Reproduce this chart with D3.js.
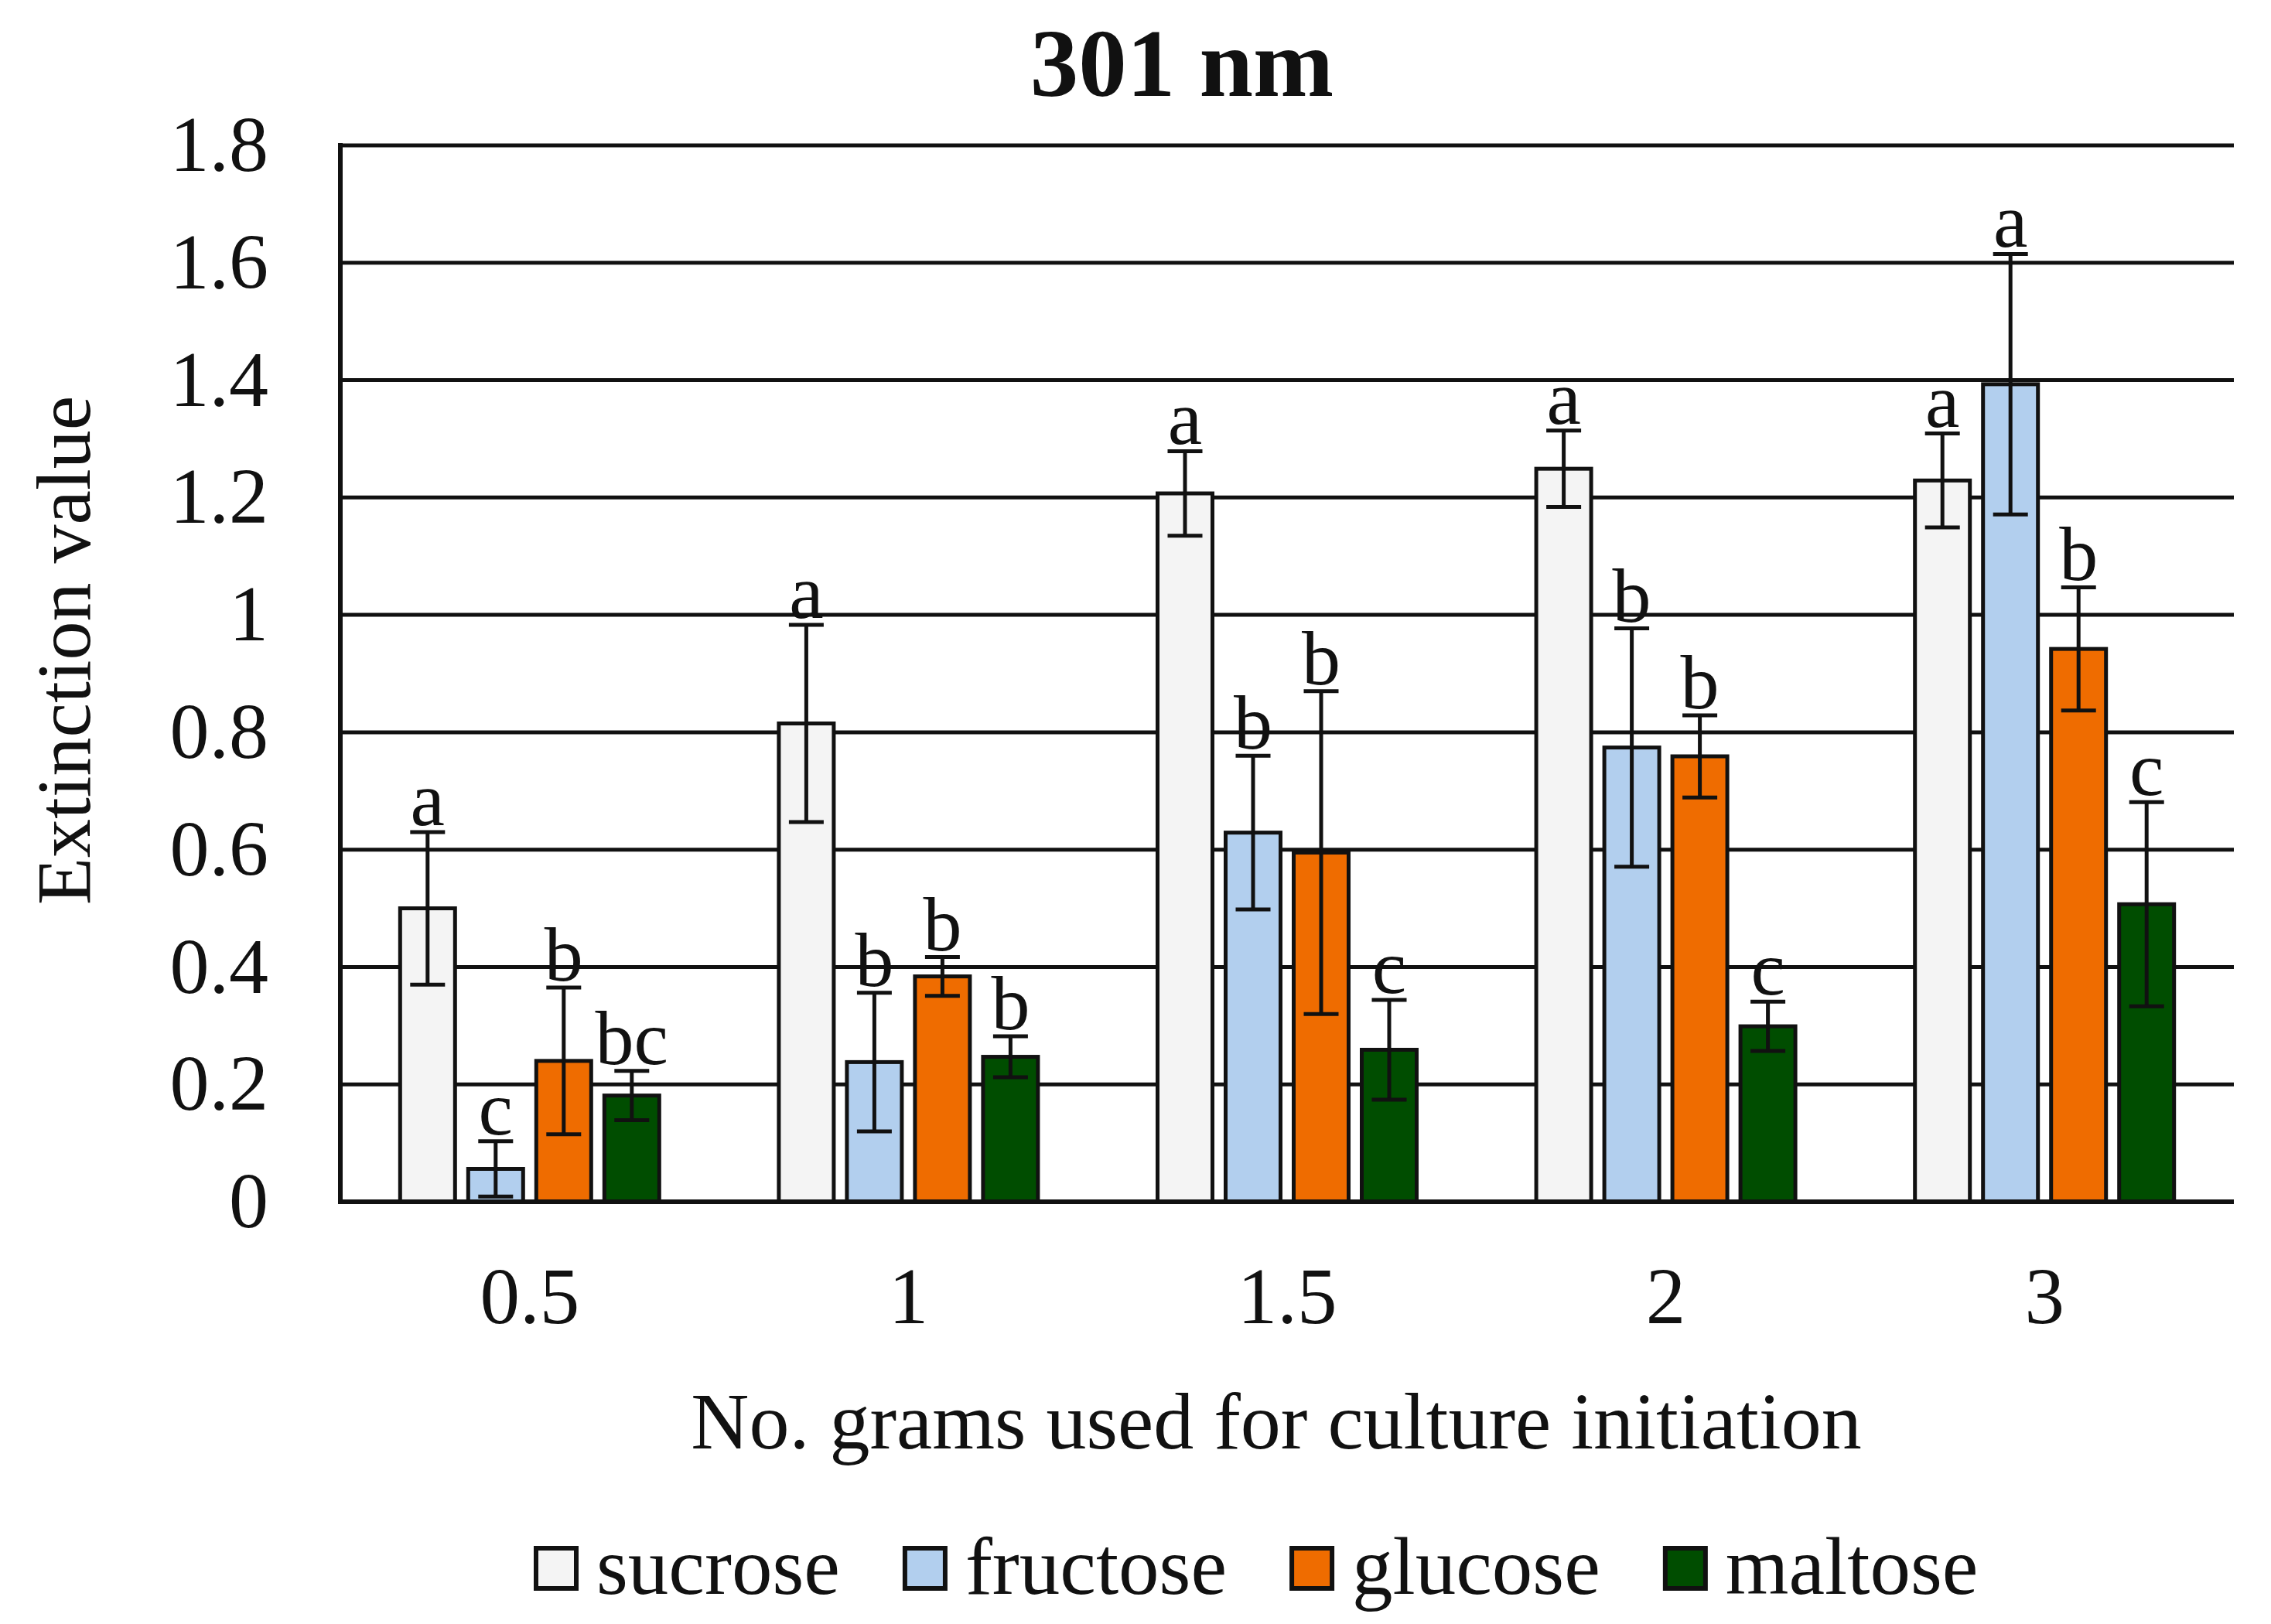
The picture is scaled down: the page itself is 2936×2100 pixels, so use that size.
<!DOCTYPE html>
<html>
<head>
<meta charset="utf-8">
<script src="https://cdn.jsdelivr.net/npm/d3@7"></script>
<style>
   body { margin: 0; background: #fff; }
   text { font-family: "Liberation Serif", "Times New Roman", serif; fill: #111; }
</style>
</head>
<body>
<svg id="chart" width="2936" height="2100"></svg>
<script>
// カテゴリー (培養開始に使用したグラム数)
const categories = ['0.5', '1', '1.5', '2', '3'];

// 系列名
const seriesNames = ['sucrose', 'fructose', 'glucose', 'maltose'];

// 平均値
const sucrose  = [0.50, 0.815, 1.207, 1.249, 1.229];
const fructose = [0.056, 0.238, 0.629, 0.774, 1.393];
const glucose  = [0.24, 0.384, 0.595, 0.759, 0.942];
const maltose  = [0.181, 0.247, 0.259, 0.299, 0.507];

// 誤差 (±)
const sucroseErr  = [0.13, 0.168, 0.072, 0.065, 0.08];
const fructoseErr = [0.047, 0.118, 0.131, 0.203, 0.222];
const glucoseErr  = [0.125, 0.033, 0.275, 0.07, 0.105];
const maltoseErr  = [0.042, 0.035, 0.085, 0.042, 0.174];

// 有意差の文字
const sucroseLetters  = ['a', 'a', 'a', 'a', 'a'];
const fructoseLetters = ['c', 'b', 'b', 'b', 'a'];
const glucoseLetters  = ['b', 'b', 'b', 'b', 'b'];
const maltoseLetters  = ['bc', 'b', 'c', 'c', 'c'];

// Y軸の目盛り
const yTicks = [0, 0.2, 0.4, 0.6, 0.8, 1, 1.2, 1.4, 1.6, 1.8];

// グラフの色
const ColorMap = {
   'sucrose': '#f4f4f4',
   'fructose': '#b2cfee',
   'glucose': '#ef6c00',
   'maltose': '#004d00'
};

const values = [sucrose, fructose, glucose, maltose];
const errors = [sucroseErr, fructoseErr, glucoseErr, maltoseErr];
const letters = [sucroseLetters, fructoseLetters, glucoseLetters, maltoseLetters];

const svg = d3.select('#chart');
const plot = { left: 440, right: 2888, top: 188, bottom: 1554 };

const x = d3.scaleBand().domain(categories).range([plot.left, plot.right]).padding(0);
const y = d3.scaleLinear().domain([0, 1.8]).range([plot.bottom, plot.top]);

const barStep = 88;
const barWidth = 71;
const capWidth = 45;

drawTitle();
drawGrid();
drawBars();
drawAxes();
drawLegend();

// タイトル
function drawTitle() {
   svg.append('text')
      .attr('x', 1528)
      .attr('y', 124)
      .attr('text-anchor', 'middle')
      .attr('font-size', 125)
      .attr('font-weight', 'bold')
      .text('301 nm');
}

// 横のグリッド線
function drawGrid() {
   svg.append('g')
      .selectAll('line')
      .data(yTicks.filter((d) => d > 0))
      .enter()
      .append('line')
      .attr('x1', plot.left)
      .attr('x2', plot.right)
      .attr('y1', (d) => y(d))
      .attr('y2', (d) => y(d))
      .attr('stroke', '#111')
      .attr('stroke-width', 5);
}

// 棒・誤差棒・文字
function drawBars() {
   const rows = [];
   seriesNames.forEach((name, si) => {
      categories.forEach((cat, ci) => {
         rows.push({
            name: name,
            cat: cat,
            cx: x(cat) + x.bandwidth() / 2 + (si - 1.5) * barStep,
            value: values[si][ci],
            err: errors[si][ci],
            letter: letters[si][ci]
         });
      });
   });

   const g = svg.append('g');

   g.selectAll('rect')
      .data(rows)
      .enter()
      .append('rect')
      .attr('x', (d) => d.cx - barWidth / 2)
      .attr('width', barWidth)
      .attr('y', (d) => y(d.value))
      .attr('height', (d) => y(0) - y(d.value))
      .attr('fill', (d) => ColorMap[d.name])
      .attr('stroke', '#111')
      .attr('stroke-width', 5);

   const eb = g.selectAll('g.err')
      .data(rows)
      .enter()
      .append('g')
      .attr('class', 'err')
      .attr('stroke', '#111')
      .attr('stroke-width', 5);

   eb.append('line')
      .attr('x1', (d) => d.cx)
      .attr('x2', (d) => d.cx)
      .attr('y1', (d) => y(d.value + d.err))
      .attr('y2', (d) => y(d.value - d.err));
   eb.append('line')
      .attr('x1', (d) => d.cx - capWidth / 2)
      .attr('x2', (d) => d.cx + capWidth / 2)
      .attr('y1', (d) => y(d.value + d.err))
      .attr('y2', (d) => y(d.value + d.err));
   eb.append('line')
      .attr('x1', (d) => d.cx - capWidth / 2)
      .attr('x2', (d) => d.cx + capWidth / 2)
      .attr('y1', (d) => y(d.value - d.err))
      .attr('y2', (d) => y(d.value - d.err));

   g.selectAll('text.letter')
      .data(rows)
      .enter()
      .append('text')
      .attr('class', 'letter')
      .attr('x', (d) => d.cx)
      .attr('y', (d) => y(d.value + d.err) - 9)
      .attr('text-anchor', 'middle')
      .attr('font-size', 100)
      .text((d) => d.letter);
}

// 軸と軸ラベル
function drawAxes() {
   const yAxis = svg.append('g')
      .attr('transform', `translate(${plot.left},0)`)
      .call(d3.axisLeft(y).tickValues(yTicks).tickSize(0).tickPadding(93)
         .tickFormat((d) => d3.format('~g')(d)));
   yAxis.select('.domain').remove();
   yAxis.selectAll('text')
      .attr('font-size', 102)
      .attr('fill', '#111')
      .attr('font-family', '"Liberation Serif", serif');

   const xAxis = svg.append('g')
      .attr('transform', `translate(0,${plot.bottom})`)
      .call(d3.axisBottom(x).tickSize(0).tickPadding(84));
   xAxis.select('.domain').remove();
   xAxis.selectAll('text')
      .attr('font-size', 103)
      .attr('fill', '#111')
      .attr('font-family', '"Liberation Serif", serif');

   // 軸線
   svg.append('line')
      .attr('x1', plot.left).attr('x2', plot.left)
      .attr('y1', plot.top - 3).attr('y2', plot.bottom + 3)
      .attr('stroke', '#111').attr('stroke-width', 6);
   svg.append('line')
      .attr('x1', plot.left - 3).attr('x2', plot.right)
      .attr('y1', plot.bottom).attr('y2', plot.bottom)
      .attr('stroke', '#111').attr('stroke-width', 6);

   svg.append('text')
      .attr('x', 1650)
      .attr('y', 1873)
      .attr('text-anchor', 'middle')
      .attr('font-size', 104)
      .text('No. grams used for culture initiation');

   svg.append('text')
      .attr('transform', 'translate(116,841) rotate(-90)')
      .attr('text-anchor', 'middle')
      .attr('font-size', 100)
      .text('Extinction value');
}

// 凡例
function drawLegend() {
   const legend = svg.append('g');
   let cursor = 693;
   seriesNames.forEach((name) => {
      legend.append('rect')
         .attr('x', cursor)
         .attr('y', 2002)
         .attr('width', 52)
         .attr('height', 52)
         .attr('fill', ColorMap[name])
         .attr('stroke', '#111')
         .attr('stroke-width', 6);
      const t = legend.append('text')
         .attr('x', cursor + 78)
         .attr('y', 2061)
         .attr('font-size', 105)
         .text(name);
      cursor += 78 + t.node().getComputedTextLength() + 84;
   });
}
</script>
</body>
</html>
